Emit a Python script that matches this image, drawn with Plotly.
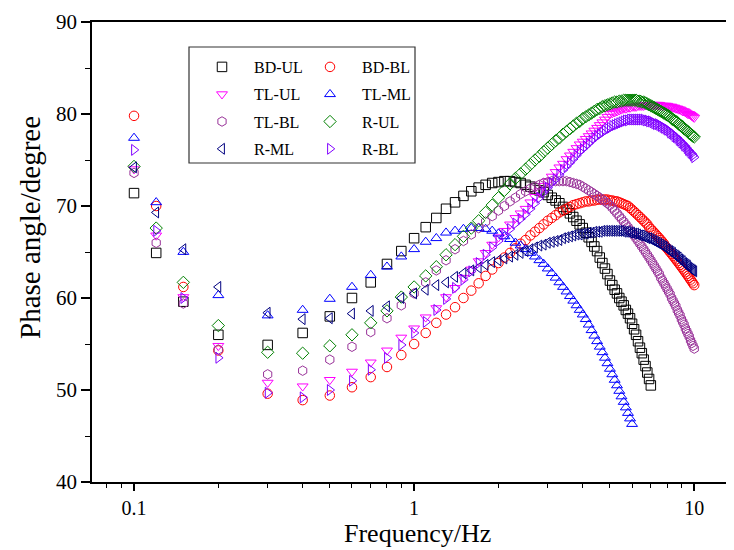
import plotly.graph_objects as go

FREQ = [0.1, 0.12, 0.15, 0.2,
        0.3, 0.4, 0.5, 0.6, 0.7, 0.8, 0.9, 1.0,
        1.1, 1.2, 1.3, 1.4, 1.5, 1.6, 1.7, 1.8, 1.9, 2.0,
        2.1, 2.2, 2.3, 2.4, 2.5, 2.6, 2.7, 2.8, 2.9, 3.0,
        3.1, 3.2, 3.3, 3.4, 3.5, 3.6, 3.7, 3.8, 3.9, 4.0,
        4.1, 4.2, 4.3, 4.4, 4.5, 4.6, 4.7, 4.8, 4.9, 5.0,
        5.1, 5.2, 5.3, 5.4, 5.5, 5.6, 5.7, 5.8, 5.9, 6.0,
        6.1, 6.2, 6.3, 6.4, 6.5, 6.6, 6.7, 6.8, 6.9, 7.0,
        7.1, 7.2, 7.3, 7.4, 7.5, 7.6, 7.7, 7.8, 7.9, 8.0,
        8.1, 8.2, 8.3, 8.4, 8.5, 8.6, 8.7, 8.8, 8.9, 9.0,
        9.1, 9.2, 9.3, 9.4, 9.5, 9.6, 9.7, 9.8, 9.9, 10.0]

BD_UL = [71.4, 64.9, 59.6, 56.0,
         54.9, 56.2, 58.0, 60.0, 61.7, 63.7, 65.1, 66.5,
         67.7, 68.7, 69.7, 70.4, 71.1, 71.6, 72.0, 72.3, 72.5, 72.6,
         72.7, 72.7, 72.6, 72.5, 72.3, 72.1, 71.9, 71.7, 71.5, 71.2,
         70.9, 70.6, 70.3, 69.9, 69.6, 69.2, 68.8, 68.4, 68.0, 67.6,
         67.1, 66.6, 66.1, 65.6, 65.1, 64.4, 63.8, 63.2, 62.6, 61.9,
         61.4, 60.9, 60.5, 60.0, 59.6, 59.2, 58.7, 58.3, 57.8, 57.2,
         56.6, 56.0, 55.3, 54.6, 54.0, 53.3, 52.6, 51.9, 51.2, 50.5]

BD_BL = [79.8, 70.0, 61.2, 54.3,
         49.6, 48.9, 49.4, 50.3, 51.4, 52.5, 53.8, 55.0,
         56.2, 57.3, 58.2, 59.0, 60.0, 60.8, 61.6, 62.4, 63.1, 63.8,
         64.4, 64.9, 65.4, 65.9, 66.3, 66.8, 67.2, 67.6, 68.0, 68.4,
         68.7, 69.0, 69.3, 69.5, 69.7, 69.9, 70.1, 70.2, 70.3, 70.4,
         70.5, 70.5, 70.6, 70.6, 70.7, 70.7, 70.7, 70.7, 70.7, 70.6,
         70.6, 70.5, 70.5, 70.4, 70.3, 70.2, 70.1, 70.0, 69.8, 69.6,
         69.4, 69.2, 69.0, 68.8, 68.6, 68.4, 68.2, 68.0, 67.7, 67.5,
         67.3, 67.1, 66.9, 66.7, 66.5, 66.3, 66.1, 65.9, 65.6, 65.4,
         65.2, 65.0, 64.8, 64.6, 64.4, 64.2, 64.0, 63.8, 63.6, 63.4,
         63.2, 63.0, 62.8, 62.6, 62.4, 62.2, 62.0, 61.8, 61.6, 61.4]

TL_UL = [74.0, 66.8, 60.1, 54.8,
         50.8, 50.4, 51.1, 52.0, 53.0, 54.3, 55.7, 56.7,
         57.9, 58.9, 60.1, 61.1, 62.2, 63.1, 64.0, 64.9, 65.8, 66.6,
         67.3, 68.0, 68.7, 69.2, 69.7, 70.4, 71.0, 71.6, 72.2, 72.7,
         73.2, 73.7, 74.2, 74.6, 75.1, 75.5, 75.9, 76.3, 76.7, 77.0,
         77.3, 77.6, 77.9, 78.2, 78.5, 78.8, 79.1, 79.4, 79.7, 80.0,
         80.1, 80.2, 80.3, 80.4, 80.5, 80.6, 80.6, 80.7, 80.7, 80.8,
         80.8, 80.8, 80.9, 80.9, 80.9, 80.9, 81.0, 81.0, 81.0, 81.0,
         81.0, 81.0, 81.0, 81.0, 81.0, 80.9, 80.9, 80.9, 80.9, 80.9,
         80.8, 80.8, 80.8, 80.7, 80.7, 80.6, 80.6, 80.5, 80.5, 80.4,
         80.3, 80.3, 80.2, 80.1, 80.0, 80.0, 79.9, 79.8, 79.7, 79.6]

TL_ML = [77.4, 70.4, 65.0, 60.3,
         58.1, 58.7, 59.9, 61.2, 62.5, 63.4, 64.5, 65.3,
         66.1, 66.5, 67.1, 67.3, 67.5, 67.6, 67.6, 67.5, 67.3, 67.0,
         66.7, 66.4, 66.0, 65.7, 65.3, 64.9, 64.5, 64.1, 63.7, 63.2,
         62.7, 62.2, 61.7, 61.2, 60.7, 60.2, 59.7, 59.2, 58.7, 58.2,
         57.7, 57.1, 56.5, 55.9, 55.3, 54.7, 54.1, 53.5, 52.9, 52.3,
         51.7, 51.1, 50.5, 49.9, 49.3, 48.7, 48.1, 47.5, 46.9, 46.3]

TL_BL = [73.6, 66.0, 59.4, 54.4,
         51.7, 52.1, 53.3, 54.7, 56.3, 57.8, 59.2, 60.5,
         61.7, 63.0, 64.1, 65.3, 66.2, 66.9, 67.6, 68.3, 68.9, 69.5,
         70.0, 70.5, 70.9, 71.3, 71.6, 71.9, 72.1, 72.3, 72.5, 72.6,
         72.7, 72.7, 72.7, 72.7, 72.7, 72.6, 72.5, 72.4, 72.3, 72.1,
         71.9, 71.7, 71.5, 71.3, 71.1, 70.9, 70.7, 70.5, 70.3, 70.1,
         69.8, 69.5, 69.2, 68.9, 68.6, 68.3, 68.0, 67.7, 67.4, 67.1,
         66.8, 66.5, 66.2, 65.9, 65.6, 65.3, 65.0, 64.7, 64.4, 64.1,
         63.8, 63.5, 63.2, 62.9, 62.6, 62.2, 61.9, 61.6, 61.3, 61.0,
         60.7, 60.4, 60.0, 59.7, 59.4, 59.1, 58.7, 58.4, 58.1, 57.7,
         57.4, 57.1, 56.7, 56.4, 56.1, 55.8, 55.4, 55.1, 54.8, 54.5]

R_UL = [74.3, 67.6, 61.7, 57.0,
        54.1, 54.0, 54.8, 56.0, 57.3, 58.6, 60.1, 61.2,
        62.4, 63.4, 64.7, 65.8, 66.7, 67.6, 68.4, 69.3, 70.1, 70.9,
        71.7, 72.4, 73.0, 73.5, 74.0, 74.5, 75.0, 75.4, 75.9, 76.3,
        76.7, 77.1, 77.4, 77.8, 78.1, 78.4, 78.7, 79.0, 79.2, 79.5,
        79.7, 79.9, 80.1, 80.3, 80.5, 80.6, 80.8, 80.9, 81.0, 81.1,
        81.2, 81.3, 81.3, 81.4, 81.4, 81.5, 81.5, 81.5, 81.5, 81.5,
        81.5, 81.5, 81.4, 81.4, 81.3, 81.3, 81.2, 81.1, 81.0, 80.9,
        80.8, 80.7, 80.6, 80.5, 80.4, 80.3, 80.2, 80.1, 80.0, 79.9,
        79.8, 79.7, 79.5, 79.4, 79.3, 79.2, 79.1, 78.9, 78.8, 78.7,
        78.6, 78.4, 78.3, 78.2, 78.1, 77.9, 77.8, 77.7, 77.6, 77.5]

R_ML = [74.2, 69.3, 65.3, 61.2,
        58.4, 57.7, 57.8, 58.3, 58.6, 59.1, 60.0, 60.5,
        60.9, 61.4, 61.7, 62.3, 62.7, 63.0, 63.3, 63.6, 63.9, 64.1,
        64.3, 64.5, 64.7, 64.9, 65.1, 65.3, 65.5, 65.7, 65.8, 66.0,
        66.1, 66.2, 66.3, 66.5, 66.6, 66.7, 66.8, 66.9, 66.9, 67.0,
        67.0, 67.1, 67.1, 67.2, 67.2, 67.2, 67.3, 67.3, 67.3, 67.3,
        67.3, 67.3, 67.3, 67.3, 67.3, 67.2, 67.2, 67.2, 67.1, 67.1,
        67.0, 67.0, 66.9, 66.8, 66.8, 66.7, 66.6, 66.5, 66.5, 66.4,
        66.3, 66.2, 66.1, 66.0, 65.9, 65.8, 65.7, 65.6, 65.5, 65.3,
        65.2, 65.1, 65.0, 64.9, 64.7, 64.6, 64.5, 64.4, 64.2, 64.1,
        64.0, 63.8, 63.7, 63.6, 63.5, 63.3, 63.2, 63.1, 63.0, 62.9]

R_BL = [76.1, 67.3, 60.0, 53.5,
        49.7, 49.2, 50.0, 51.0, 52.2, 53.5, 54.9, 56.2,
        57.4, 58.7, 59.9, 61.1, 62.0, 62.9, 63.8, 64.7, 65.5, 66.2,
        66.9, 67.5, 68.1, 68.6, 69.1, 69.7, 70.3, 70.9, 71.5, 72.0,
        72.5, 72.9, 73.4, 73.9, 74.3, 74.7, 75.1, 75.5, 75.9, 76.2,
        76.5, 76.8, 77.1, 77.4, 77.6, 77.8, 78.0, 78.2, 78.4, 78.5,
        78.7, 78.8, 78.9, 79.0, 79.1, 79.2, 79.3, 79.3, 79.4, 79.4,
        79.4, 79.4, 79.4, 79.4, 79.4, 79.4, 79.3, 79.3, 79.2, 79.2,
        79.1, 79.0, 78.9, 78.9, 78.8, 78.7, 78.6, 78.5, 78.4, 78.3,
        78.2, 78.0, 77.9, 77.8, 77.6, 77.5, 77.4, 77.2, 77.1, 76.9,
        76.8, 76.6, 76.5, 76.3, 76.1, 76.0, 75.8, 75.7, 75.5, 75.3]

X_TICKS = [0.1, 1, 10]
X_TICK_TEXT = ["0.1", "1", "10"]
X_MINOR = [0.08, 0.09, 0.2, 0.3, 0.4, 0.5, 0.6, 0.7, 0.8, 0.9,
           2, 3, 4, 5, 6, 7, 8, 9]

SERIES = [
    ("BD-UL", BD_UL, "square-open", "#000000", "legend"),
    ("BD-BL", BD_BL, "circle-open", "#FF0000", "legend2"),
    ("TL-UL", TL_UL, "triangle-down-open", "#FF00FF", "legend"),
    ("TL-ML", TL_ML, "triangle-up-open", "#0000FF", "legend2"),
    ("TL-BL", TL_BL, "hexagon-open", "#993399", "legend"),
    ("R-UL", R_UL, "diamond-open", "#008000", "legend2"),
    ("R-ML", R_ML, "triangle-left-open", "#000080", "legend"),
    ("R-BL", R_BL, "triangle-right-open", "#8000FF", "legend2"),
]

FONT = "Liberation Serif"

fig = go.Figure()
for name, vals, sym, col, leg in SERIES:
    fig.add_trace(go.Scatter(
        x=FREQ[:len(vals)], y=vals, mode="markers", name=name,
        legend=leg, legendgroup=name,
        marker=dict(symbol=sym, size=9.5, color=col, line=dict(width=1, color=col)),
    ))

# page body adds an 8px offset; screen coords of plot area: x 92..734, y 22..482
OFF = 8
L, T, W, H = 92 - OFF, 22 - OFF, 642, 460
def px(xs):
    return (xs - OFF - L) / W
def py(ys):
    return (T + H - (ys - OFF)) / H

legend_common = dict(
    font=dict(family=FONT, size=16, color="black"),
    bgcolor="rgba(0,0,0,0)", borderwidth=0,
    itemwidth=54, tracegroupgap=3.5, traceorder="grouped",
    xanchor="left", yanchor="top",
)

fig.update_layout(
    width=734, height=550,
    margin=dict(l=L, r=734 - L - W, t=T, b=550 - T - H),
    paper_bgcolor="white", plot_bgcolor="white",
    font=dict(family=FONT, color="black"),
    showlegend=True,
    legend=dict(x=px(190), y=py(50), **legend_common),
    legend2=dict(x=px(298), y=py(50), **legend_common),
    shapes=[dict(type="rect", xref="paper", yref="paper",
                 x0=px(189), x1=px(415), y0=py(163), y1=py(47),
                 line=dict(color="#333333", width=1.2))],
    annotations=[
        dict(text="Frequency/Hz", xref="paper", yref="paper", x=px(417), y=py(533),
             xanchor="center", yanchor="middle", showarrow=False,
             font=dict(family=FONT, size=26, color="black")),
        dict(text="Phase angle/degree", xref="paper", yref="paper", x=px(30), y=py(228),
             xanchor="center", yanchor="middle", showarrow=False, textangle=-90,
             font=dict(family=FONT, size=29, color="black")),
    ],
    xaxis=dict(
        type="log", range=[-1.15, 1.142],
        tickmode="array", tickvals=X_TICKS, ticktext=X_TICK_TEXT,
        ticks="outside", ticklen=7, tickwidth=1.5, tickcolor="black",
        showline=True, linecolor="black", linewidth=1.8, mirror=True,
        showgrid=False, zeroline=False, automargin=False,
        tickfont=dict(family=FONT, size=20, color="black"),
        minor=dict(tickmode="array", tickvals=X_MINOR, ticks="outside", ticklen=4,
                   tickwidth=1.2, tickcolor="black", showgrid=False),
    ),
    yaxis=dict(
        range=[40, 90], tickmode="linear", tick0=40, dtick=10,
        ticks="outside", ticklen=9, tickwidth=1.5, tickcolor="black",
        showline=True, linecolor="black", linewidth=1.8, mirror=False,
        showgrid=False, zeroline=False, automargin=False,
        tickfont=dict(family=FONT, size=21, color="black"),
        minor=dict(tickmode="linear", dtick=5, ticks="outside", ticklen=5,
                   tickwidth=1.2, tickcolor="black", showgrid=False),
    ),
)

fig.write_html("out.html")
